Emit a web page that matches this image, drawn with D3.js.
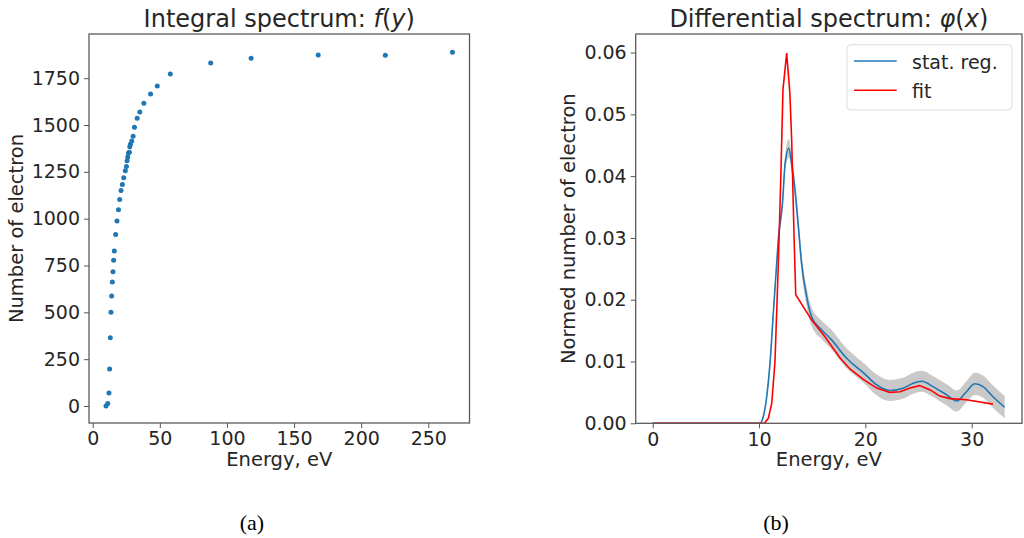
<!DOCTYPE html>
<html><head><meta charset="utf-8">
<script src="https://cdn.jsdelivr.net/npm/d3@7"></script>
<style>
body{margin:0;background:#fff;}
svg{display:block;}
text{font-family:"DejaVu Sans",sans-serif;fill:#262626;}
</style></head>
<body>
<svg id="c" width="1024" height="538"></svg>
<script>
// ---- Data: integral spectrum ----
const intEnergy = [9.9, 11.2, 12.1, 12.6, 13.1, 13.6, 14.1, 14.6, 15.1, 15.6, 16.1, 17.1, 18.1, 19.2, 20.1, 21.1, 22.1, 23.1, 24.3, 25.1, 25.6, 26.1, 26.6, 27.3, 27.6, 28.1, 29.1, 30.1, 31.1, 33.1, 35.1, 38.1, 43.1, 48.1, 57.8, 87.9, 118, 168, 218, 268];
const intCount  = [0, 14, 69, 197, 365, 500, 587, 662, 717, 778, 827, 916, 987, 1048, 1103, 1151, 1183, 1219, 1256, 1279, 1309, 1329, 1350, 1354, 1384, 1397, 1415, 1440, 1488, 1536, 1570, 1616, 1666, 1708, 1772, 1831, 1856, 1874, 1872, 1888];
const intXTicks = [0, 50, 100, 150, 200, 250];
const intYTicks = [0, 250, 500, 750, 1000, 1250, 1500, 1750];

// ---- Data: differential spectrum ----
const regEnergy = [0, 10.09, 10.4, 10.72, 11.03, 11.34, 11.66, 11.85, 12.2, 12.45, 12.8, 13.07, 13.38, 13.7, 14.0, 14.48, 14.95, 15.9, 16.83, 18.09, 18.55, 19.03, 19.8, 21.07, 22.3, 23.6, 24.5, 25.3, 26.4, 27.65, 28.6, 29.5, 30.3, 31.1, 32.0, 33.1];
const regValue  = [0, 0, 0.0011, 0.0043, 0.0097, 0.0178, 0.0259, 0.0305, 0.0355, 0.0420, 0.0445, 0.0420, 0.0378, 0.0318, 0.0259, 0.0205, 0.0172, 0.0151, 0.0135, 0.0108, 0.0100, 0.0093, 0.0082, 0.0062, 0.0053, 0.0057, 0.0065, 0.0068, 0.0059, 0.0046, 0.0036, 0.0051, 0.0064, 0.0059, 0.0043, 0.0026];
const regErr    = [0, 0, 0.0003, 0.0006, 0.0008, 0.0010, 0.0011, 0.0012, 0.0013, 0.0014, 0.0015, 0.0015, 0.0015, 0.0015, 0.0015, 0.0015, 0.0015, 0.0015, 0.0016, 0.0016, 0.0016, 0.0016, 0.0016, 0.0017, 0.0017, 0.0017, 0.0017, 0.0017, 0.0017, 0.0017, 0.0017, 0.0017, 0.0018, 0.0018, 0.0018, 0.0018];
const fitEnergy = [0, 10.5, 10.87, 11.19, 11.5, 11.8, 12.05, 12.25, 12.6, 12.9, 13.07, 13.3, 13.45, 14.95, 16.2, 17.6, 18.55, 19.8, 21.07, 22.3, 23.26, 24.2, 25.1, 26.1, 27.0, 27.96, 29.5, 32.0];
const fitValue  = [0, 0, 0.0008, 0.0032, 0.0100, 0.0250, 0.0400, 0.0540, 0.0599, 0.0534, 0.0458, 0.0297, 0.0208, 0.0167, 0.0140, 0.0106, 0.0088, 0.0071, 0.0057, 0.0050, 0.0051, 0.0057, 0.0061, 0.0054, 0.0044, 0.0040, 0.0038, 0.0031];
const diffXTicks = [0, 10, 20, 30];
const diffYTicks = [0, 0.01, 0.02, 0.03, 0.04, 0.05, 0.06];
const legendLabels = ["stat. reg.", "fit"];

const svg = d3.select("#c");
const FS = 19, TFS = 24;
const spine = "#555";

function frame(g, x, y, xt, yt, xfmt, yfmt){
  const [xa, xb] = x.range(), [yb, ya] = y.range();
  const ax = g.append("g").attr("transform", `translate(0,${yb})`)
    .call(d3.axisBottom(x).tickValues(xt).tickFormat(xfmt).tickSize(5).tickPadding(4));
  const ay = g.append("g").attr("transform", `translate(${xa},0)`)
    .call(d3.axisLeft(y).tickValues(yt).tickFormat(yfmt).tickSize(5).tickPadding(4));
  [ax, ay].forEach(a => {
    a.select(".domain").remove();
    a.selectAll(".tick line").attr("stroke", spine).attr("stroke-width", 1);
    a.selectAll(".tick text").attr("font-size", FS).attr("fill", "#262626")
      .attr("font-family", "DejaVu Sans");
  });
  g.append("rect").attr("x", xa).attr("y", ya).attr("width", xb - xa).attr("height", yb - ya)
    .attr("fill", "none").attr("stroke", spine).attr("stroke-width", 1.25);
}

// ---------- Left panel ----------
const xL = d3.scaleLinear().domain([-2.76, 280.7]).range([89, 469.5]);
const yL = d3.scaleLinear().domain([-90.7, 1985.8]).range([423, 34]);
const gL = svg.append("g");
gL.append("g").selectAll("circle").data(intEnergy.map((e, i) => [e, intCount[i]]))
  .join("circle").attr("cx", d => xL(d[0])).attr("cy", d => yL(d[1])).attr("r", 2.5)
  .attr("fill", "#1f77b4");
frame(gL, xL, yL, intXTicks, intYTicks, d3.format("d"), d3.format("d"));

const tL = gL.append("text").attr("x", (89 + 469.5) / 2).attr("y", 27)
  .attr("text-anchor", "middle").attr("font-size", TFS);
tL.append("tspan").text("Integral spectrum: ");
tL.append("tspan").attr("font-style", "italic").text("f");
tL.append("tspan").text("(");
tL.append("tspan").attr("font-style", "italic").text("y");
tL.append("tspan").text(")");
gL.append("text").attr("x", (89 + 469.5) / 2).attr("y", 466).attr("text-anchor", "middle")
  .attr("font-size", FS + 0.5).text("Energy, eV");
gL.append("text").attr("transform", `translate(23,${(34 + 423) / 2}) rotate(-90)`)
  .attr("text-anchor", "middle").attr("font-size", FS + 0.5).text("Number of electron");

// ---------- Right panel ----------
const xR = d3.scaleLinear().domain([-1.6, 34.73]).range([635.7, 1022]);
const yR = d3.scaleLinear().domain([0, 0.063]).range([423.3, 34]);
const gR = svg.append("g");
const clip = svg.append("clipPath").attr("id", "clipR").append("rect")
  .attr("x", 635.7).attr("y", 34).attr("width", 1022 - 635.7).attr("height", 423.3 - 34);
const plot = gR.append("g").attr("clip-path", "url(#clipR)");
const reg = regEnergy.map((e, i) => ({x: e, y: regValue[i], e: regErr[i]}));
const fit = fitEnergy.map((e, i) => ({x: e, y: fitValue[i]}));

plot.append("path").datum(reg)
  .attr("d", d3.area().x(d => xR(d.x)).y0(d => yR(d.y - d.e)).y1(d => yR(d.y + d.e)).curve(d3.curveMonotoneX))
  .attr("fill", "#888").attr("fill-opacity", 0.45);
plot.append("path").datum(reg)
  .attr("d", d3.line().x(d => xR(d.x)).y(d => yR(d.y)).curve(d3.curveMonotoneX))
  .attr("fill", "none").attr("stroke", "#1f77b4").attr("stroke-width", 1.6);
plot.append("path").datum(fit)
  .attr("d", d3.line().x(d => xR(d.x)).y(d => yR(d.y)))
  .attr("fill", "none").attr("stroke", "red").attr("stroke-width", 1.6);

frame(gR, xR, yR, diffXTicks, diffYTicks, d3.format("d"), d3.format(".2f"));

const tR = gR.append("text").attr("x", (635.7 + 1022) / 2).attr("y", 27)
  .attr("text-anchor", "middle").attr("font-size", TFS);
tR.append("tspan").text("Differential spectrum: ");
tR.append("tspan").attr("font-style", "italic").text("φ");
tR.append("tspan").text("(");
tR.append("tspan").attr("font-style", "italic").text("x");
tR.append("tspan").text(")");
gR.append("text").attr("x", (635.7 + 1022) / 2).attr("y", 466).attr("text-anchor", "middle")
  .attr("font-size", FS + 0.5).text("Energy, eV");
gR.append("text").attr("transform", `translate(575,${(34 + 423.3) / 2}) rotate(-90)`)
  .attr("text-anchor", "middle").attr("font-size", FS + 0.5).text("Normed number of electron");

// legend
const lg = gR.append("g");
lg.append("rect").attr("x", 847).attr("y", 44.7).attr("width", 165).attr("height", 65.3)
  .attr("rx", 4).attr("fill", "#fff").attr("fill-opacity", 0.8).attr("stroke", "#ddd");
const legColors = ["#1f77b4", "red"];
legendLabels.forEach((lab, i) => {
  const yy = 61 + i * 29.3;
  lg.append("line").attr("x1", 854).attr("x2", 896.7).attr("y1", yy).attr("y2", yy)
    .attr("stroke", legColors[i]).attr("stroke-width", 1.6);
  lg.append("text").attr("x", 912).attr("y", yy + 7.5).attr("font-size", FS).text(lab);
});

// sub captions
svg.append("text").attr("x", 252).attr("y", 530).attr("text-anchor", "middle")
  .style("font-family", "'Liberation Serif', serif").attr("font-size", 22).style("fill", "#000").text("(a)");
svg.append("text").attr("x", 776).attr("y", 530).attr("text-anchor", "middle")
  .style("font-family", "'Liberation Serif', serif").attr("font-size", 22).style("fill", "#000").text("(b)");
</script>
</body></html>
